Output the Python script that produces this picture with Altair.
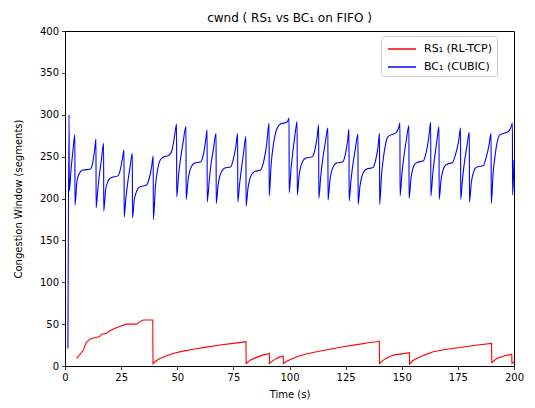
import altair as alt
import pandas as pd

RS_LABEL = "RS\u2081 (RL-TCP)"
BC_LABEL = "BC\u2081 (CUBIC)"

# BC1 (CUBIC) congestion window
bc_time = [
    1.3, 1.8, 1.9, 2.7, 3.5, 4.4,
    4.45, 5.3, 6.1, 6.9, 8.0, 11.2, 12.3, 13.2, 13.8,
    13.85, 14.6, 15.3, 16.2, 17.2,
    17.25, 18.1, 18.9, 19.7, 20.8, 23.5, 24.6, 25.6, 26.3,
    26.35, 27.1, 27.9, 28.9, 30.0,
    30.05, 30.9, 31.7, 32.5, 33.6, 36.3, 37.4, 38.6, 39.3,
    39.35, 40.3, 41.2, 42.1, 43.5, 46.5, 47.6, 48.3, 49.0, 49.7,
    49.75, 50.6, 51.5, 52.6, 53.9,
    53.95, 54.8, 55.6, 56.5, 57.6, 60.5, 61.6, 62.6, 63.3,
    63.35, 64.2, 65.0, 66.1, 67.3,
    67.35, 68.2, 69.0, 69.9, 71.0, 73.8, 74.9, 76.1, 76.9,
    76.95, 77.8, 78.6, 79.5, 80.6,
    80.65, 81.5, 82.3, 83.2, 84.3, 87.1, 88.3, 89.8, 90.9,
    90.95, 91.8, 92.7, 93.6, 94.7, 96.0, 98.8, 99.3, 99.8,
    99.85, 100.7, 101.6, 102.4, 103.4,
    103.45, 104.3, 105.1, 106.0, 107.1, 110.2, 111.3, 112.3, 113.0,
    113.05, 113.9, 114.8, 115.9, 117.1,
    117.15, 118.0, 118.8, 119.7, 120.8, 123.8, 124.9, 125.9, 126.5,
    126.55, 127.4, 128.3, 129.3, 130.5,
    130.55, 131.4, 132.2, 133.1, 134.2, 137.2, 138.3, 139.4, 140.1,
    140.15, 141.0, 141.9, 142.8, 143.9, 147.6, 148.3, 148.8, 149.2,
    149.25, 150.1, 151.0, 152.0, 153.2,
    153.25, 154.1, 154.9, 155.8, 156.9, 159.6, 160.8, 162.0, 162.9,
    162.95, 163.8, 164.7, 165.6, 166.6,
    166.65, 167.5, 168.3, 169.2, 170.3, 172.6, 173.9, 175.3, 176.2,
    176.25, 177.1, 178.0, 179.0, 180.1,
    180.15, 181.0, 181.8, 182.7, 183.8, 186.3, 187.5, 188.9, 189.8,
    189.85, 190.7, 191.6, 192.5, 193.7, 197.4, 198.3, 198.9, 199.3,
    199.35, 199.8, 200.0,
]
bc_cwnd = [
    21, 300, 209, 235, 256, 276,
    192, 220, 228, 232, 234, 235, 242, 258, 271,
    189, 210, 228, 246, 266,
    185, 210, 219, 223, 225, 227, 234, 248, 258,
    178, 200, 218, 236, 254,
    177, 199, 207, 212, 214, 216, 223, 238, 251,
    175, 215, 234, 244, 249, 252, 257, 266, 278, 289,
    202, 228, 248, 267, 286,
    199, 222, 233, 239, 242, 244, 252, 268, 282,
    196, 220, 240, 259, 278,
    194, 216, 227, 233, 236, 238, 246, 262, 278,
    196, 218, 236, 254, 274,
    191, 212, 223, 229, 232, 234, 242, 264, 290,
    203, 240, 262, 276, 285, 289, 291, 293, 296,
    207, 236, 258, 275, 292,
    204, 228, 239, 245, 248, 250, 258, 273, 288,
    200, 226, 247, 266, 284,
    198, 222, 233, 239, 242, 244, 253, 269, 283,
    197, 222, 242, 259, 277,
    193, 215, 226, 232, 235, 237, 245, 261, 278,
    193, 228, 250, 265, 274, 279, 282, 286, 290,
    203, 230, 251, 269, 287,
    200, 224, 235, 241, 243, 245, 254, 272, 291,
    203, 229, 250, 268, 286,
    199, 222, 233, 239, 241, 243, 252, 268, 284,
    199, 224, 245, 262, 279,
    196, 219, 230, 236, 238, 239, 248, 264, 278,
    194, 230, 252, 267, 276, 280, 283, 287, 290,
    204, 228, 246,
]

# RS1 (RL-TCP) congestion window
rs_time = [
    5.2, 6.7, 8.2, 9.4, 11.1, 13.4, 15.3, 16.3, 18.6, 20.0, 22.3, 25.2,
    27.5, 31.9, 33.4, 34.9, 39.1,
    39.2, 40.5, 42.3, 45.0, 48.2, 52.0, 57.1, 63.0, 69.0, 75.0, 80.6,
    80.7, 82.5, 85.0, 88.0, 91.0,
    91.1, 93.0, 95.0, 97.2,
    97.3, 99.0, 101.0, 103.2, 107.0, 112.1, 118.0, 124.0, 130.0, 135.9, 140.0,
    140.1, 141.8, 144.0, 146.2, 150.0, 153.4,
    153.5, 155.0, 156.6, 160.0, 164.0, 170.0, 175.9, 182.0, 190.0,
    190.1, 192.3, 195.5, 199.0,
    199.1, 200.0,
]
rs_cwnd = [
    9, 14, 19, 28, 32, 34, 35, 38, 39, 42, 45, 48,
    50, 50, 53, 55, 55,
    3, 6, 9, 12, 15, 17.5, 20, 22.5, 25, 27, 29,
    3, 7, 10, 13, 15,
    3, 7, 10, 12,
    3, 6, 8.5, 11, 14, 17, 20, 23, 25.5, 28, 29.5,
    3, 7, 10.5, 13, 14.5, 16,
    2.5, 6.5, 9, 13, 17, 20, 22, 24.5, 27,
    4, 9, 12, 14,
    3, 5,
]

x_ticks = [0, 25, 50, 75, 100, 125, 150, 175, 200]
y_ticks = [0, 50, 100, 150, 200, 250, 300, 350, 400]

rs_df = pd.DataFrame({"t": rs_time, "cwnd": rs_cwnd, "series": RS_LABEL})
rs_df["i"] = range(len(rs_df))
bc_df = pd.DataFrame({"t": bc_time, "cwnd": bc_cwnd, "series": BC_LABEL})
bc_df["i"] = range(len(bc_df))

FONT = "DejaVu Sans"

color = alt.Color(
    "series:N",
    scale=alt.Scale(domain=[RS_LABEL, BC_LABEL], range=["#ff0000", "#0000ff"]),
    legend=alt.Legend(
        title=None,
        orient="none",
        legendX=316,
        legendY=5,
        symbolType="M-0.75,0H2.75",
        symbolSize=256,
        symbolStrokeWidth=1.5,
        symbolFillColor="transparent",
        labelFont=FONT,
        labelFontSize=11,
        labelColor="black",
        rowPadding=4,
        padding=4,
        strokeColor="#cccccc",
        fillColor="white",
        cornerRadius=3,
        labelOffset=21,
    ),
)

x = alt.X(
    "t:Q",
    scale=alt.Scale(domain=[0, 200], nice=False, zero=False),
    axis=alt.Axis(values=x_ticks, title="Time (s)", grid=False, labelFlush=False),
)
y = alt.Y(
    "cwnd:Q",
    scale=alt.Scale(domain=[0, 400], nice=False),
    axis=alt.Axis(values=y_ticks, title="Congestion Window (segments)", grid=False),
)

rs_line = alt.Chart(rs_df).mark_line(strokeWidth=1.1, interpolate="linear").encode(
    x=x, y=y, color=color, order="i:Q"
)
bc_line = alt.Chart(bc_df).mark_line(strokeWidth=1.1, interpolate="monotone").encode(
    x=x, y=y, color=color, order="i:Q"
)

chart = (
    alt.layer(rs_line, bc_line)
    .properties(
        width=449,
        height=335,
        title=alt.TitleParams(
            "cwnd ( RS\u2081 vs BC\u2081 on FIFO )",
            font=FONT,
            fontSize=12,
            fontWeight="normal",
            color="black",
            anchor="middle",
            frame="group",
            offset=1,
        ),
        autosize=alt.AutoSizeParams(type="none"),
        padding={"left": 57, "top": 23, "right": 11, "bottom": 34},
    )
    .configure_view(stroke="black", strokeWidth=1)
    .configure_axis(
        labelFont=FONT,
        titleFont=FONT,
        labelFontSize=10,
        titleFontSize=10,
        titleFontWeight="normal",
        labelColor="black",
        titleColor="black",
        domainColor="black",
        tickColor="black",
        tickSize=3.5,
        tickWidth=0.8,
        domainWidth=0.8,
        labelPadding=3,
    )
    .configure_axisX(titlePadding=7)
    .configure_axisY(titlePadding=16)
)

chart.save("out.html", embed_options={"renderer": "svg", "actions": False})
